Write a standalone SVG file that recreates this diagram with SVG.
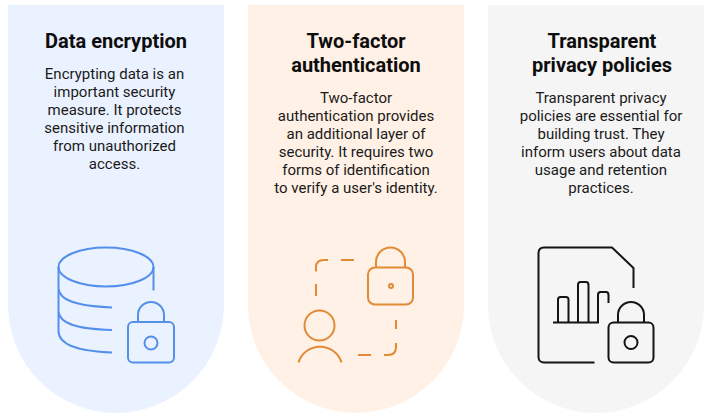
<svg xmlns="http://www.w3.org/2000/svg" width="712" height="418" viewBox="0 0 712 418">
<style>
.t{font-family:Roboto,"Liberation Sans",sans-serif;font-size:20px;font-weight:700;fill:#0d0d0d;text-anchor:middle}
.b{font-family:Roboto,"Liberation Sans",sans-serif;font-size:15px;fill:#1a1a1a;text-anchor:middle}
.i{fill:none;stroke-width:2;stroke-linecap:butt;stroke-linejoin:round}
</style>
<rect width="712" height="418" fill="#fff"/>
<g id="card-encryption">
<path d="M8 5H224V305A108 108 0 0 1 8 305Z" fill="#ebf2ff"/>
<text class="t" x="116" y="48">Data encryption</text>
<text class="b" x="114.500" y="79">Encrypting data is an</text>
<text class="b" x="114.500" y="97">important security</text>
<text class="b" x="114.500" y="115">measure. It protects</text>
<text class="b" x="114.500" y="133">sensitive information</text>
<text class="b" x="114.500" y="151">from unauthorized</text>
<text class="b" x="114.500" y="169">access.</text>
<g class="i" stroke="#5490eb">
<ellipse cx="106" cy="267" rx="47.500" ry="19.500"/>
<path d="M153.500 267V290.500M58.500 267V331C58.500 341 70 351 112 352.500M58.500 289C60 300 75 306 112 307.500M58.500 312C60 323 75 329 112 330"/>
<rect x="128" y="322" width="46" height="40.500" rx="5"/>
<path d="M138 322V315A13 13 0 0 1 164 315V322"/>
<circle cx="151" cy="343" r="6.500"/>
</g>
</g>
<g id="card-2fa">
<path d="M248 5H464V305A108 108 0 0 1 248 305Z" fill="#fff1e5"/>
<text class="t" x="356" y="48">Two-factor</text>
<text class="t" x="356" y="72">authentication</text>
<text class="b" x="356" y="103">Two-factor</text>
<text class="b" x="356" y="121">authentication provides</text>
<text class="b" x="356" y="139">an additional layer of</text>
<text class="b" x="356" y="157">security. It requires two</text>
<text class="b" x="356" y="175">forms of identification</text>
<text class="b" x="356" y="193">to verify a user's identity.</text>
<g class="i" stroke="#e28a35">
<rect x="368" y="267.500" width="45" height="37" rx="7"/>
<path d="M376 267.500V262A14.500 14.500 0 0 1 405 262V267.500"/>
<circle cx="391" cy="286" r="2"/>
<path d="M316 296V284M316 271.500V267C316 262 319 260 324 260H328M341 260H354M396 320V329M396 343V347C396 352 393 355 388 355H384M371 355H358"/>
<circle cx="319.500" cy="325.500" r="15"/>
<path d="M298.500 362.500A22.500 22.500 0 0 1 341.500 362.500"/>
</g>
</g>
<g id="card-privacy">
<path d="M488 5H704V305A108 108 0 0 1 488 305Z" fill="#f5f5f5"/>
<text class="t" x="602" y="48">Transparent</text>
<text class="t" x="602" y="72">privacy policies</text>
<text class="b" x="601" y="103">Transparent privacy</text>
<text class="b" x="601" y="121">policies are essential for</text>
<text class="b" x="601" y="139">building trust. They</text>
<text class="b" x="601" y="157">inform users about data</text>
<text class="b" x="601" y="175">usage and retention</text>
<text class="b" x="601" y="193">practices.</text>
<g class="i" stroke="#141414">
<path d="M594.500 362.500H544C540.500 362.500 538.500 360 538.500 357V253C538.500 249.500 540.500 247.500 544 247.500H612L633.500 268V288"/>
<path d="M553 322.500H599M558 322.500V299.500C558 298 559 297 560.500 297H566C567.500 297 568.500 298 568.500 299.500V322.500M578 322.500V285C578 283 579 282 580.500 282H586C587.500 282 588.500 283 588.500 285V322.500M598 322.500V295C598 293 599 292 600.500 292H606C607.500 292 608.500 293 608.500 295V303"/>
<rect x="608.500" y="322.500" width="45" height="40" rx="5"/>
<path d="M618 322.500V315A13 13 0 0 1 644 315V322.500"/>
<circle cx="631" cy="342.500" r="6.500"/>
</g>
</g>
</svg>
